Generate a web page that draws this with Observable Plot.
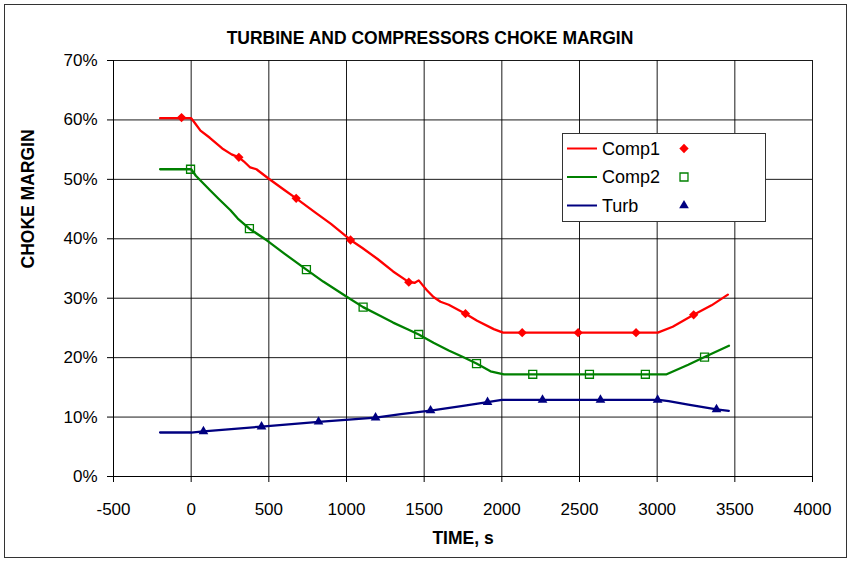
<!DOCTYPE html>
<html>
<head>
<meta charset="utf-8">
<script src="https://cdn.jsdelivr.net/npm/d3@7"></script>
<script src="https://cdn.jsdelivr.net/npm/@observablehq/plot@0.6"></script>
<style>
  body { margin: 0; background: #fff; }
  #chart svg { display: block; }
</style>
</head>
<body>
<div id="chart"></div>
<script>
// ---- data (time in s, choke margin in %) ----
const comp1Time   = [-200,0,20,60,120,200,260,307,340,380,420,500,600,676,800,900,1026,1100,1200,1300,1401,1440,1465,1490,1519,1560,1605,1658,1766,1841,1948,2008,3004,3100,3235,3350,3455];
const comp1Margin = [60.3,60.3,59.6,58.2,57.0,55.2,54.2,53.7,53.0,52.0,51.7,50.1,48.2,46.8,44.4,42.5,39.8,38.5,36.6,34.5,32.7,32.6,33.0,32.2,31.3,30.2,29.4,28.9,27.4,26.2,24.8,24.2,24.2,25.2,27.2,28.8,30.6];

const comp2Time   = [-200,0,30,60,120,178,253,300,375,489,600,742,850,1004,1107,1219,1300,1400,1465,1560,1658,1750,1837,1927,2013,3061,3200,3305,3462];
const comp2Margin = [51.7,51.7,50.6,49.8,48.2,46.7,44.8,43.4,41.7,39.7,37.5,34.8,32.8,30.2,28.5,27.0,25.9,24.7,23.9,22.5,21.2,20.1,19.0,17.7,17.2,17.2,18.8,20.1,22.0];

const turbTime    = [-200,0,79,453,820,1187,1350,1541,1750,1908,2000,3010,3074,3200,3382,3461];
const turbMargin  = [7.4,7.4,7.6,8.4,9.2,9.9,10.5,11.1,11.9,12.5,12.9,12.9,12.7,12.1,11.3,11.05];

const comp1MarkTime   = [-62,307,676,1026,1401,1766,2131,2491,2864,3235];
const comp1MarkMargin = [60.4,53.7,46.8,39.8,32.7,27.4,24.2,24.2,24.2,27.2];
const comp2MarkTime   = [-4,375,742,1107,1465,1837,2199,2564,2924,3305];
const comp2MarkMargin = [51.7,41.7,34.8,28.5,23.9,19.0,17.2,17.2,17.2,20.1];
const turbMarkTime    = [79,453,820,1187,1541,1908,2262,2635,3003,3382];
const turbMarkMargin  = [7.6,8.4,9.2,9.9,11.1,12.5,12.9,12.9,12.9,11.3];

const seriesNames  = ["Comp1", "Comp2", "Turb"];
const seriesColors = ["#FF0000", "#008000", "#000080"];
const xTicks = [-500,0,500,1000,1500,2000,2500,3000,3500,4000];
const yTicks = [0,10,20,30,40,50,60,70];
const titleText = "TURBINE AND COMPRESSORS CHOKE MARGIN";
const xLabel = "TIME, s";
const yLabel = "CHOKE MARGIN";

// ---- build tables ----
const rows = (xs, ys) => xs.map((x, i) => ({x, y: ys[i]}));
const comp1 = rows(comp1Time, comp1Margin);
const comp2 = rows(comp2Time, comp2Margin);
const turb  = rows(turbTime, turbMargin);
const comp1M = rows(comp1MarkTime, comp1MarkMargin);
const comp2M = rows(comp2MarkTime, comp2MarkMargin);
const turbM  = rows(turbMarkTime, turbMarkMargin);

const FONT = '"Liberation Sans", Arial, sans-serif';

const chart = Plot.plot({
  width: 851,
  height: 563,
  marginLeft: 113,
  marginRight: 39,
  marginTop: 60,
  marginBottom: 87,
  style: {fontFamily: FONT, fontSize: "17px", background: "#fff", color: "#000", overflow: "visible"},
  x: {domain: [-500, 4000], ticks: xTicks, tickSize: 6, tickPadding: 20, label: null, tickFormat: d => String(d)},
  y: {domain: [0, 70], ticks: yTicks, tickSize: 6, tickPadding: 10, label: null, tickFormat: d => d + "%"},
  marks: [
    Plot.ruleX(xTicks, {stroke: "#000", strokeWidth: 1, strokeOpacity: 0.9}),
    Plot.ruleY(yTicks, {stroke: "#000", strokeWidth: 1, strokeOpacity: 0.9}),
    Plot.ruleX([-500], {stroke: "#000", strokeWidth: 1}),
    Plot.ruleY([0], {stroke: "#000", strokeWidth: 1}),
    Plot.line(comp1, {x: "x", y: "y", stroke: seriesColors[0], strokeWidth: 2.3}),
    Plot.line(comp2, {x: "x", y: "y", stroke: seriesColors[1], strokeWidth: 2.3}),
    Plot.line(turb,  {x: "x", y: "y", stroke: seriesColors[2], strokeWidth: 2.3}),
    Plot.dot(comp1M, {x: "x", y: "y", symbol: "diamond2", fill: seriesColors[0], r: 4.2}),
    Plot.dot(comp2M, {x: "x", y: "y", symbol: "square", stroke: seriesColors[1], fill: "none", strokeWidth: 1.3, r: 4.5}),
    Plot.dot(turbM,  {x: "x", y: "y", symbol: "triangle", fill: seriesColors[2], r: 3.6}),
    Plot.text([titleText], {frameAnchor: "top", dy: -29, dx: -33, fontSize: 17.5, fontWeight: "bold", fill: "#000"}),
    Plot.text([xLabel], {frameAnchor: "bottom", dy: 67, fontSize: 17.5, fontWeight: "bold", fill: "#000"}),
    Plot.text([yLabel], {frameAnchor: "left", dx: -85, rotate: -90, fontSize: 17.5, fontWeight: "bold", fill: "#000"})
  ]
});

document.getElementById("chart").appendChild(chart);

// ---- outer border ----
const svg = d3.select(chart);
svg.append("rect")
  .attr("x", 4.5).attr("y", 4.5).attr("width", 842).attr("height", 553)
  .attr("fill", "none").attr("stroke", "#333").attr("stroke-width", 1);

// ---- legend ----
const legend = svg.append("g").attr("font-family", FONT).attr("font-size", 18).attr("text-anchor", "start");
legend.append("rect")
  .attr("x", 562.5).attr("y", 133.5).attr("width", 203).attr("height", 88)
  .attr("fill", "#fff").attr("stroke", "#333").attr("stroke-width", 1);
const symbols = [d3.symbolDiamond2, d3.symbolSquare, d3.symbolTriangle];
const symSizes = [4.2 * 4.2 * Math.PI, 4.5 * 4.5 * Math.PI, 3.6 * 3.6 * Math.PI];
seriesNames.forEach((name, i) => {
  const cy = 148.5 + i * 28.5;
  legend.append("line")
    .attr("x1", 567).attr("x2", 597).attr("y1", cy).attr("y2", cy)
    .attr("stroke", seriesColors[i]).attr("stroke-width", 2);
  legend.append("text")
    .attr("x", 602).attr("y", cy).attr("dy", "0.36em")
    .attr("text-anchor", "start")
    .attr("fill", "#000").text(name);
  const p = legend.append("path")
    .attr("transform", `translate(684,${cy})`)
    .attr("d", d3.symbol(symbols[i], symSizes[i])());
  if (i === 1) p.attr("fill", "none").attr("stroke", seriesColors[i]).attr("stroke-width", 1.3);
  else p.attr("fill", seriesColors[i]);
});
</script>
</body>
</html>
